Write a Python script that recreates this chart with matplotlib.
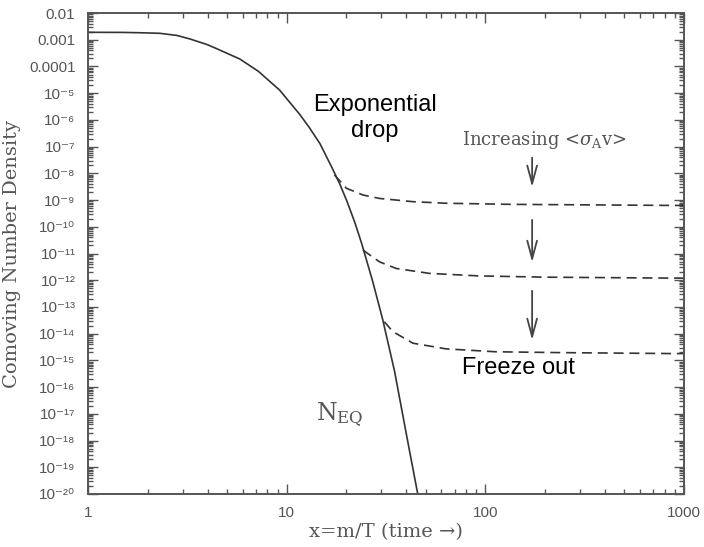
import numpy as np
import matplotlib
matplotlib.use('Agg')
import matplotlib.pyplot as plt
from matplotlib.ticker import FixedLocator, FixedFormatter, LogLocator, NullFormatter

plt.rcParams['mathtext.fontset'] = 'dejavuserif'

# equilibrium curve
x_eq = [1.0, 1.5, 1.82, 2.3, 2.55, 2.8, 3.26, 4.0, 4.61, 5.81, 7.2, 9.22,
        11.6, 13.0, 14.7, 16.8, 18.5, 20.0, 22.0, 23.8, 27.0, 30.4, 34.9,
        40.0, 46.5]
n_eq = [1.9e-3, 1.88e-3, 1.83e-3, 1.74e-3, 1.58e-3, 1.45e-3, 1.07e-3,
        6.5e-4, 4.1e-4, 1.9e-4, 6.6e-5, 1.3e-5, 1.65e-6, 5.2e-7, 1.3e-7,
        1.8e-8, 4e-9, 1.0e-9, 1.5e-10, 2.5e-11, 1.0e-12, 3.5e-14, 4e-16,
        1.8e-18, 5e-21]

# freeze-out branches (dashed)
x_f1 = [17.4, 20.0, 24.2, 29.3, 43.2, 63.4, 137, 873, 1000]
n_f1 = [8.7e-9, 2.75e-9, 1.55e-9, 1.15e-9, 8.7e-10, 7.6e-10, 6.9e-10, 6.3e-10, 6.3e-10]
x_f2 = [24.2, 29.3, 35.6, 52.4, 93.3, 202, 873, 1000]
n_f2 = [1.35e-11, 4.9e-12, 2.75e-12, 1.8e-12, 1.45e-12, 1.3e-12, 1.2e-12, 1.2e-12]
x_f3 = [31.0, 34.2, 43.2, 63.4, 113, 245, 873, 1000]
n_f3 = [2.8e-14, 1.2e-14, 4.4e-15, 2.7e-15, 2.1e-15, 1.95e-15, 1.8e-15, 1.8e-15]

# arrows (start, end) at x = 172
arrow_x = 172
arrows = [(4.9e-8, 2.4e-9), (2.3e-10, 3.7e-12), (5.1e-13, 4.5e-15)]

sup = '\u2070\u00b9\u00b2\u00b3\u2074\u2075\u2076\u2077\u2078\u2079'
yticks = [10.0**k for k in range(-2, -21, -1)]
ylabels = ['0.01', '0.001', '0.0001'] + ['10\u207b' + ''.join(sup[int(c)] for c in str(k)) for k in range(5, 21)]
xticks = [1, 10, 100, 1000]
xlabels = ['1', '10', '100', '1000']

grey = '#555555'
line_c = '#333333'

fig = plt.figure(figsize=(7.04, 5.47), dpi=100)
ax = fig.add_axes([0.125, 0.0969, 0.8466, 0.8793])
ax.set_xscale('log')
ax.set_yscale('log')

ax.plot(x_eq, n_eq, color=line_c, lw=1.2)
for xs, ns in [(x_f1, n_f1), (x_f2, n_f2), (x_f3, n_f3)]:
    ax.plot(xs, ns, color=line_c, lw=1.2, ls=(0, (6, 3.5)))

for y0, y1 in arrows:
    ax.annotate('', xy=(arrow_x, y1), xytext=(arrow_x, y0),
                arrowprops=dict(arrowstyle='->,head_length=1.3,head_width=0.35',
                                color='#444444', lw=1.3))

ax.set_xlim(1, 1000)
ax.set_ylim(1e-20, 1e-2)

ax.yaxis.set_major_locator(FixedLocator(yticks))
ax.yaxis.set_major_formatter(FixedFormatter(ylabels))
ax.yaxis.set_minor_locator(LogLocator(base=10, subs=np.arange(2, 10), numticks=100))
ax.yaxis.set_minor_formatter(NullFormatter())
ax.xaxis.set_major_locator(FixedLocator(xticks))
ax.xaxis.set_major_formatter(FixedFormatter(xlabels))
ax.xaxis.set_minor_locator(LogLocator(base=10, subs=np.arange(2, 10), numticks=100))
ax.xaxis.set_minor_formatter(NullFormatter())

ax.tick_params(which='both', direction='in', top=True, right=True, color=grey, width=1)
ax.tick_params(which='major', length=7, labelsize=11, labelcolor=grey, pad=9)
ax.tick_params(which='minor', length=3.5)
for lab in ax.get_xticklabels() + ax.get_yticklabels():
    lab.set_family(['Liberation Sans', 'DejaVu Sans'])
for sp in ax.spines.values():
    sp.set_color(grey)
    sp.set_linewidth(1.4)

ax.set_xlabel('x=m/T (time \u2192)', family='DejaVu Serif', fontsize=14, color=grey, labelpad=2)
ax.set_ylabel('Comoving Number Density', family='DejaVu Serif', fontsize=14, color=grey, labelpad=6)

ax.text(27.7, 1.2e-6, 'Exponential\ndrop', ha='center', va='center', fontsize=17,
        family='Liberation Sans', linespacing=1.25)
ax.text(198, 1.8e-7, r'Increasing <$\sigma_{\rm A}$v>', ha='center', va='center',
        fontsize=13, family='DejaVu Serif', color=grey)
ax.text(147, 5.1e-16, 'Freeze out', ha='center', va='center', fontsize=17,
        family='Liberation Sans')
ax.text(18.5, 9e-18, r'N$_{\rm EQ}$', ha='center', va='center', fontsize=17,
        family='DejaVu Serif', color=grey)

fig.savefig('out.png', dpi=100)
